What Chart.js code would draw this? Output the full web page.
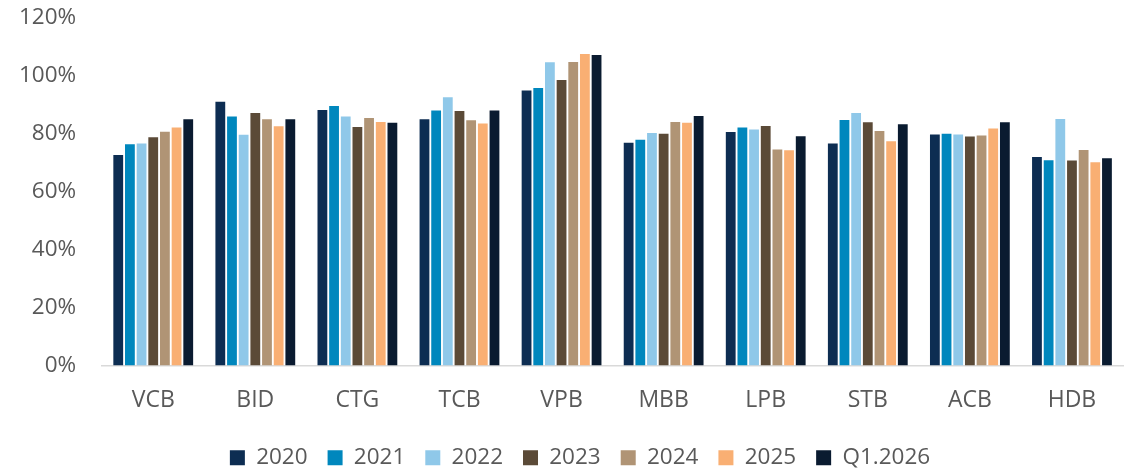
<!DOCTYPE html>
<html>
<head>
<meta charset="utf-8">
<script src="https://cdn.jsdelivr.net/npm/chart.js@4/dist/chart.umd.min.js"></script>
<style>
  html, body { margin: 0; padding: 0; background: #fff; }
  #wrap { width: 1132px; height: 469px; }
</style>
</head>
<body>
<div id="wrap"><canvas id="chart"></canvas></div>
<script>
const banks = ['VCB', 'BID', 'CTG', 'TCB', 'VPB', 'MBB', 'LPB', 'STB', 'ACB', 'HDB'];
const seriesNames = ['2020', '2021', '2022', '2023', '2024', '2025', 'Q1.2026'];
const seriesColors = ['#0d2d52', '#0087bd', '#8fc8e9', '#5b4a37', '#b09475', '#f9af73', '#0a1b30'];

// values in %
const v2020 = [72.7, 91.1, 88.2, 85.0, 95.0, 76.9, 80.6, 76.7, 79.8, 72.0];
const v2021 = [76.4, 86.0, 89.6, 88.1, 95.8, 78.0, 82.2, 84.8, 80.0, 70.9];
const v2022 = [76.7, 79.7, 86.0, 92.6, 104.7, 80.3, 81.5, 87.2, 79.8, 85.1];
const v2023 = [78.8, 87.2, 82.4, 87.9, 98.6, 80.0, 82.7, 84.0, 79.1, 70.8];
const v2024 = [80.7, 85.0, 85.5, 84.7, 104.8, 84.1, 74.6, 81.0, 79.4, 74.4];
const v2025 = [82.2, 82.6, 84.1, 83.6, 107.6, 83.8, 74.3, 77.4, 81.8, 70.2];
const vQ1 = [85.0, 85.0, 83.8, 88.1, 107.2, 86.2, 79.2, 83.3, 84.0, 71.6];
const allValues = [v2020, v2021, v2022, v2023, v2024, v2025, vQ1];

const yTicks = [0, 20, 40, 60, 80, 100, 120];

const datasets = seriesNames.map((name, i) => ({
    label: name,
    data: allValues[i],
    backgroundColor: seriesColors[i],
    borderWidth: 0,
    categoryPercentage: 0.8,
    barPercentage: 0.84
}));

const fontFamily = "'Open Sans', 'Noto Sans', sans-serif";

// nudge the legend a bit right of the canvas centre, as in the original
const legendShift = {
    id: 'legendShift',
    afterLayout(chart) {
        if (chart.legend) {
            chart.legend.left += 22;
            chart.legend.right += 22;
        }
    }
};

new Chart(document.getElementById('chart').getContext('2d'), {
    type: 'bar',
    data: {
        labels: banks,
        datasets: datasets
    },
    plugins: [legendShift],
    options: {
        responsive: true,
        maintainAspectRatio: false,
        animation: false,
        layout: {
            padding: { left: -7, right: 9, top: 0, bottom: -10 }
        },
        plugins: {
            tooltip: { enabled: false },
            legend: {
                position: 'bottom',
                labels: {
                    boxWidth: 15,
                    boxHeight: 15,
                    padding: 20,
                    color: '#595959',
                    font: { family: fontFamily, size: 22.5 }
                }
            }
        },
        scales: {
            x: {
                grid: { display: false, drawTicks: false },
                border: { display: true, color: '#d9d9d9', width: 1.5 },
                ticks: {
                    color: '#595959',
                    padding: 21,
                    font: { family: fontFamily, size: 23 }
                },
                afterFit: axis => { axis.height = 61; }
            },
            y: {
                min: 0,
                max: 120,
                afterBuildTicks: axis => {
                    axis.ticks = yTicks.map(v => ({ value: v }));
                },
                afterFit: axis => {
                    axis.paddingTop = 18;
                    axis.paddingBottom = 0;
                },
                grid: { display: false, drawTicks: false },
                border: { display: false },
                ticks: {
                    color: '#595959',
                    padding: 26,
                    font: { family: fontFamily, size: 22.5 },
                    callback: value => value + '%'
                }
            }
        }
    }
});
</script>
</body>
</html>
